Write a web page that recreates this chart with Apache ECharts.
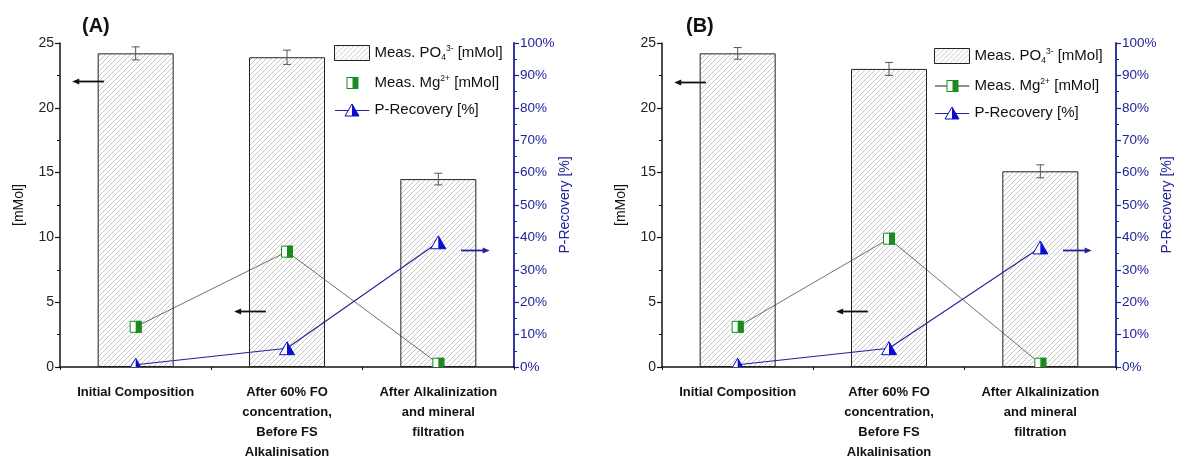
<!DOCTYPE html>
<html><head><meta charset="utf-8">
<script src="https://cdn.jsdelivr.net/npm/echarts@6/dist/echarts.min.js"></script>
<style>html,body{margin:0;padding:0;background:#fff}#c{width:1181px;height:462px}</style>
</head><body><div id="c"></div>
<script>
// ---------- data ----------
const categories = ['Initial Composition', 'After 60% FO\nconcentration,\nBefore FS\nAlkalinisation', 'After Alkalinization\nand mineral\nfiltration'];
const po4A = [24.2, 23.9, 14.5];
const po4ErrA = [0.5, 0.55, 0.45];
const mgA = [3.1, 8.9, 0.25];
const precA = [0.7, 5.8, 38.5];
const po4B = [24.2, 23.0, 15.1];
const po4ErrB = [0.45, 0.5, 0.5];
const mgB = [3.1, 9.9, 0.25];
const precB = [0.7, 5.8, 36.9];
const leftAxis = {min: 0, max: 25, interval: 5};
const rightAxis = {min: 0, max: 100, interval: 10};
const panelTitles = ['(A)', '(B)'];
// annotation arrows: [panel, category, value, axis(0 left,1 right), direction]
const arrowsA = [[0, 0, 22.1, 0, 'left'], [0, 1, 4.35, 0, 'left'], [0, 2, 36, 1, 'right']];
const arrowsB = [[1, 0, 22.0, 0, 'left'], [1, 1, 4.35, 0, 'left'], [1, 2, 36, 1, 'right']];

const FONT = '"Liberation Sans", Arial, sans-serif';
const BLUE = '#22229a';
const GREEN = '#1a8c1f';
const TRI_BLUE = '#0a0ad0';

function hatch() {
  const n = 5;
  const c = document.createElement('canvas');
  c.width = n; c.height = n;
  const g = c.getContext('2d');
  g.fillStyle = '#fff'; g.fillRect(0, 0, n, n);
  g.strokeStyle = '#b4b4b4'; g.lineWidth = 0.75;
  g.beginPath();
  for (let k = -1; k <= 1; k++) {
    g.moveTo(-1 + k * n, n + 1); g.lineTo(n + 1 + k * n, -1);
  }
  g.stroke();
  return c;
}
const pattern = {image: hatch(), repeat: 'repeat'};

function svgIcon(body) {
  return 'image://data:image/svg+xml;utf8,' + encodeURIComponent(
    "<svg xmlns='http://www.w3.org/2000/svg' width='35' height='15' viewBox='0 0 35 15'>" + body + "</svg>");
}
const sq = "<rect x='12.5' y='2' width='11' height='11' fill='#fff' stroke='" + GREEN + "' stroke-width='1'/><rect x='18' y='2' width='5.5' height='11' fill='" + GREEN + "'/>";
const mgIconA = svgIcon(sq);
const mgIconB = svgIcon("<line x1='0' y1='7.5' x2='35' y2='7.5' stroke='#222' stroke-width='1'/>" + sq);
const precIcon = svgIcon("<line x1='0' y1='8' x2='35' y2='8' stroke='" + BLUE + "' stroke-width='1.2'/>" +
  "<polygon points='17.5,1.5 10.5,13.5 24.5,13.5' fill='#fff' stroke='" + TRI_BLUE + "' stroke-width='1'/>" +
  "<polygon points='17.5,1.5 24.5,13.5 17.5,13.5' fill='" + TRI_BLUE + "'/>");

function errItem(params, api) {
  const x = api.value(0), lo = api.value(1), hi = api.value(2);
  const p1 = api.coord([x, lo]), p2 = api.coord([x, hi]);
  const cw = 4;
  const st = {stroke: '#555', lineWidth: 1};
  return {type: 'group', children: [
    {type: 'line', shape: {x1: p1[0], y1: p1[1], x2: p2[0], y2: p2[1]}, style: st},
    {type: 'line', shape: {x1: p1[0] - cw, y1: p1[1], x2: p1[0] + cw, y2: p1[1]}, style: st},
    {type: 'line', shape: {x1: p2[0] - cw, y1: p2[1], x2: p2[0] + cw, y2: p2[1]}, style: st}
  ]};
}
function mgItem(params, api) {
  const p = api.coord([api.value(0), api.value(1)]);
  const s = 12, h = 6;
  return {type: 'group', children: [
    {type: 'rect', shape: {x: p[0] - h + 0.5, y: p[1] - h + 0.5, width: s - 1, height: s - 1}, style: {fill: '#fff', stroke: GREEN, lineWidth: 1}},
    {type: 'rect', shape: {x: p[0], y: p[1] - h, width: h, height: s}, style: {fill: GREEN}}
  ]};
}
function triItem(params, api) {
  const p = api.coord([api.value(0), api.value(1)]);
  const w = 15, hh = 13;
  const ax = p[0], ay = p[1] - hh / 2, by = p[1] + hh / 2;
  return {type: 'group', children: [
    {type: 'polygon', shape: {points: [[ax, ay], [ax - w / 2, by], [ax + w / 2, by]]}, style: {fill: '#fff', stroke: TRI_BLUE, lineWidth: 1}},
    {type: 'polygon', shape: {points: [[ax, ay], [ax + w / 2, by], [ax, by]]}, style: {fill: TRI_BLUE}}
  ]};
}

const gridsPx = [{left: 60, right: 1181 - 514}, {left: 662, right: 1181 - 1116}];
const grid = gridsPx.map(g => ({left: g.left, right: g.right, top: 43, bottom: 91}));

const xAxis = [], yAxis = [], series = [];
const panels = [
  {po4: po4A, err: po4ErrA, mg: mgA, prec: precA},
  {po4: po4B, err: po4ErrB, mg: mgB, prec: precB}
];
panels.forEach((d, i) => {
  xAxis.push({
    type: 'category', gridIndex: i, data: categories, position: 'bottom',
    axisLine: {lineStyle: {color: '#111', width: 1.5}},
    axisTick: {alignWithLabel: true, length: 5, lineStyle: {color: '#111', width: 1.2}},
    axisLabel: {color: '#111', fontFamily: FONT, fontWeight: 'bold', fontSize: 13, lineHeight: 20, margin: 15, interval: 0},
    splitLine: {show: false}
  });
  xAxis.push({
    type: 'category', gridIndex: i, data: categories, position: 'bottom',
    axisLine: {show: false},
    axisTick: {show: true, alignWithLabel: false, length: 3, interval: 0, lineStyle: {color: '#111', width: 1}},
    axisLabel: {show: false}, splitLine: {show: false}
  });
  yAxis.push({
    type: 'value', gridIndex: i, position: 'left', min: leftAxis.min, max: leftAxis.max, interval: leftAxis.interval,
    name: '[mMol]', nameLocation: 'middle', nameRotate: 90, nameGap: 34,
    nameTextStyle: {fontFamily: FONT, fontSize: 14, color: '#111'},
    axisLine: {show: true, lineStyle: {color: '#111', width: 1.5}},
    axisTick: {show: true, length: 5, lineStyle: {color: '#111', width: 1.2}},
    minorTick: {show: true, splitNumber: 2, length: 3, lineStyle: {color: '#111', width: 1}},
    axisLabel: {color: '#222', fontFamily: FONT, fontSize: 14, margin: 6},
    splitLine: {show: false}
  });
  yAxis.push({
    type: 'value', gridIndex: i, position: 'right', min: rightAxis.min, max: rightAxis.max, interval: rightAxis.interval,
    name: 'P-Recovery [%]', nameLocation: 'middle', nameRotate: 90, nameGap: 44,
    nameTextStyle: {fontFamily: FONT, fontSize: 14, color: BLUE},
    axisLine: {show: true, lineStyle: {color: BLUE, width: 1.8}},
    axisTick: {show: true, length: 5, lineStyle: {color: BLUE, width: 1.2}},
    minorTick: {show: true, splitNumber: 2, length: 3, lineStyle: {color: BLUE, width: 1}},
    axisLabel: {color: BLUE, fontFamily: FONT, fontSize: 13.5, margin: 6, formatter: '{value}%'},
    splitLine: {show: false}
  });
  const xi = i * 2, yl = i * 2, yr = i * 2 + 1;
  series.push({
    name: 'po4', type: 'bar', xAxisIndex: xi, yAxisIndex: yl, data: d.po4, barWidth: 76,
    itemStyle: {color: pattern, borderColor: '#222', borderWidth: 1}, z: 2, silent: true
  });
  series.push({
    name: 'po4err', type: 'custom', xAxisIndex: xi, yAxisIndex: yl, renderItem: errItem, z: 3,
    data: d.po4.map((v, k) => [k, v - d.err[k], v + d.err[k]]), silent: true
  });
  series.push({
    name: 'mg', type: 'line', xAxisIndex: xi, yAxisIndex: yl, data: d.mg, symbol: 'none',
    lineStyle: {color: '#333', width: 0.7}, z: 4, silent: true
  });
  series.push({
    name: 'mgmk', type: 'custom', xAxisIndex: xi, yAxisIndex: yl, renderItem: mgItem, clip: true, z: 6,
    data: d.mg.map((v, k) => [k, v]), silent: true
  });
  series.push({
    name: 'prec', type: 'line', xAxisIndex: xi, yAxisIndex: yr, data: d.prec, symbol: 'none',
    lineStyle: {color: BLUE, width: 1.1}, z: 5, silent: true
  });
  series.push({
    name: 'precmk', type: 'custom', xAxisIndex: xi, yAxisIndex: yr, renderItem: triItem, clip: true, z: 7,
    data: d.prec.map((v, k) => [k, v]), silent: true
  });
});

const rich = {
  t: {fontFamily: FONT, fontSize: 15, color: '#111'},
  sub: {fontFamily: FONT, fontSize: 8.5, color: '#111', padding: [9, 0, 0, 0]},
  sup: {fontFamily: FONT, fontSize: 8.5, color: '#111', padding: [0, 0, 9, 0]}
};
const labelMap = {
  po4: '{t|Meas. PO}{sub|4}{sup|3-}{t| [mMol]}',
  mg: '{t|Meas. Mg}{sup|2+}{t| [mMol]}',
  prec: '{t|P-Recovery [%]}'
};
function makeLegend(left, top, mgIcon) {
  return {
    left: left, top: top, orient: 'vertical', itemWidth: 35, itemHeight: 15, itemGap: 12,
    padding: 0, selectedMode: false,
    data: [
      {name: 'po4', icon: 'rect', itemStyle: {color: pattern, borderColor: '#222', borderWidth: 1}},
      {name: 'mg', icon: mgIcon},
      {name: 'prec', icon: precIcon}
    ],
    formatter: n => labelMap[n],
    textStyle: {fontFamily: FONT, fontSize: 15, color: '#111', rich: rich}
  };
}

const chart = echarts.init(document.getElementById('c'), null, {renderer: 'canvas'});
chart.setOption({
  animation: false,
  backgroundColor: '#fff',
  title: [
    {text: panelTitles[0], left: 77, top: 11, textStyle: {fontFamily: FONT, fontSize: 20, fontWeight: 'bold', color: '#111'}},
    {text: panelTitles[1], left: 681, top: 11, textStyle: {fontFamily: FONT, fontSize: 20, fontWeight: 'bold', color: '#111'}}
  ],
  legend: [makeLegend(334, 44, mgIconA), makeLegend(934, 47, mgIconB)],
  grid: grid, xAxis: xAxis, yAxis: yAxis, series: series
});

// annotation arrows placed via the axes
function arrowGraphics(list) {
  const out = [];
  list.forEach(a => {
    const [panel, cat, val, ax, dir] = a;
    const p = chart.convertToPixel({xAxisIndex: panel * 2, yAxisIndex: panel * 2 + ax}, [cat, val]);
    const band = 151;
    let tail, head, color = ax === 1 ? BLUE : '#111';
    if (dir === 'left') {
      const off = cat === 0 ? [-0.21, -0.42] : [-0.14, -0.35];
      tail = p[0] + off[0] * band; head = p[0] + off[1] * band;
    } else {
      tail = p[0] + 0.15 * band; head = p[0] + 0.34 * band;
    }
    const y = Math.round(p[1]) + 0.5;
    const s = dir === 'left' ? 1 : -1;
    out.push({type: 'line', shape: {x1: tail, y1: y, x2: head + s * 4, y2: y}, style: {stroke: color, lineWidth: 1.8}, z: 10});
    out.push({type: 'polygon', shape: {points: [[head, y], [head + s * 7, y - 3], [head + s * 7, y + 3]]}, style: {fill: color}, z: 10});
  });
  return out;
}
chart.setOption({graphic: arrowGraphics(arrowsA).concat(arrowGraphics(arrowsB))});
</script></body></html>
